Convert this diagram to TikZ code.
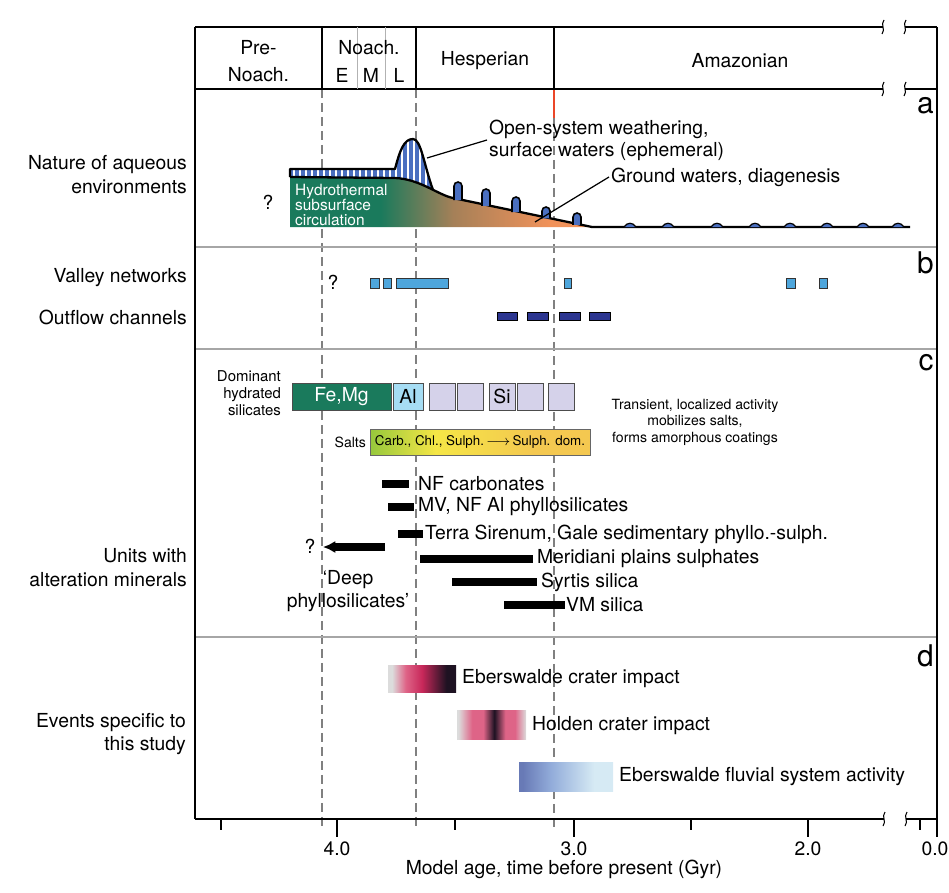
\documentclass[tikz,border=0pt]{standalone}
\usepackage{fontspec}
\setmainfont{TeX Gyre Heros}
\usetikzlibrary{arrows.meta}

\definecolor{hydrogreen}{RGB}{26,122,92}
\definecolor{hydrobrown}{RGB}{165,128,88}
\definecolor{hydroorange}{RGB}{241,146,90}
\definecolor{bandblue}{RGB}{74,111,192}
\definecolor{vnblue}{RGB}{78,166,220}
\definecolor{ocblue}{RGB}{43,53,144}
\definecolor{alblue}{RGB}{166,221,244}
\definecolor{silav}{RGB}{213,210,234}
\definecolor{saltgreen}{RGB}{150,200,60}
\definecolor{saltyellow}{RGB}{245,230,70}
\definecolor{saltgold}{RGB}{244,200,80}
\definecolor{impgrey}{RGB}{220,220,220}
\definecolor{imppink}{RGB}{222,100,135}
\definecolor{impcrimson}{RGB}{200,40,90}
\definecolor{impdark}{RGB}{30,18,34}
\definecolor{fluvslate}{RGB}{104,122,182}
\definecolor{fluvmid}{RGB}{146,172,218}
\definecolor{fluvlight}{RGB}{214,234,244}
\definecolor{redline}{RGB}{235,70,40}

\pgfdeclarehorizontalshading{hydroshade}{100bp}{color(0bp)=(hydrogreen); color(40bp)=(hydrogreen); color(52bp)=(hydrobrown); color(68bp)=(hydroorange); color(100bp)=(hydroorange)}
\pgfdeclarehorizontalshading{saltshade}{100bp}{color(0bp)=(saltgreen); color(25bp)=(saltgreen); color(40bp)=(saltyellow); color(62bp)=(saltgold); color(100bp)=(saltgold)}
\pgfdeclarehorizontalshading{ebershade}{100bp}{color(0bp)=(impgrey); color(28bp)=(impgrey); color(38bp)=(imppink); color(50bp)=(impcrimson); color(68bp)=(impdark); color(100bp)=(impdark)}
\pgfdeclarehorizontalshading{holdenshade}{100bp}{color(0bp)=(impgrey); color(26bp)=(impgrey); color(36bp)=(imppink); color(44bp)=(imppink); color(52bp)=(impdark); color(60bp)=(imppink); color(67bp)=(imppink); color(75bp)=(impgrey); color(100bp)=(impgrey)}
\pgfdeclarehorizontalshading{fluvshade}{100bp}{color(0bp)=(fluvslate); color(27bp)=(fluvslate); color(42bp)=(fluvmid); color(65bp)=(fluvlight); color(100bp)=(fluvlight)}

\begin{document}
\begin{tikzpicture}[x=0.02cm, y=-0.02cm,
    lbl/.style={font=\fontsize{11}{13.6}\selectfont, inner sep=1pt},
    smalltext/.style={font=\fontsize{8}{9.5}\selectfont, inner sep=1pt},
    panelletter/.style={font=\fontsize{17}{17}\selectfont, inner sep=0pt},
    agedash/.style={gray, line width=0.6pt, dash pattern=on 0.18cm off 0.1cm},
    sepline/.style={gray!70, line width=0.6pt},
    frameline/.style={line width=1pt},
    headline/.style={line width=1.3pt},
    vnbox/.style={draw=black!80, fill=vnblue, line width=0.5pt},
    ocbox/.style={draw=black, fill=ocblue, line width=0.5pt},
    silbox/.style={draw=black!70, line width=0.5pt, inner sep=0pt, minimum height=0.54cm,
        font=\fontsize{11}{13}\selectfont},
    unitbar/.style={line width=4pt},
    leader/.style={line width=0.7pt}]
    \useasboundingbox (0,0) rectangle (949,892);

    % Draw the age lines
    \foreach \x in {322,416} \draw[agedash] (\x,89) -- (\x,827);
    \draw[agedash] (554,118) -- (554,827);
    \draw[redline, line width=0.8pt] (554,89) -- (554,118);

    % Draw the panel separators
    \foreach \y in {247,349,637} \draw[sepline] (195,\y) -- (937,\y);

    % Draw the frame and the period header
    \draw[frameline] (195,27) -- (195,819);
    \draw[frameline] (937,27) -- (937,837);
    \draw[headline] (195,27) -- (883,27);
    \draw[headline] (905,27) -- (937,27);
    \draw[headline] (195,89) -- (883,89);
    \draw[headline] (905,89) -- (937,89);
    \foreach \x in {322,416,554} \draw[frameline] (\x,27) -- (\x,89);
    \foreach \x in {357,385} \draw[gray!60, line width=0.5pt] (\x,27) -- (\x,89);
    \foreach \x/\y in {883/27,905/27,883/89,905/89,884/819,906/819}
        \draw[line width=0.6pt] (\x+1,\y-7) .. controls (\x-3,\y-2) and (\x+3,\y+2) .. (\x-1,\y+7);

    \node[lbl, align=center, font=\fontsize{11}{15.3}\selectfont] (prenoach) at (258.5,61) {Pre-\\Noach.};
    \node[lbl] (noach) at (369,48) {Noach.};
    \node[lbl] (early) at (342,75) {E};
    \node[lbl] (middle) at (371,75) {M};
    \node[lbl] (late) at (399,75) {L};
    \node[lbl] (hesperian) at (485,61) {Hesperian};
    \node[lbl] (amazonian) at (740,61) {Amazonian};

    % Panel letters
    \node[panelletter, anchor=base east] (pa) at (934,113) {a};
    \node[panelletter, anchor=base east] (pb) at (934,273) {b};
    \node[panelletter, anchor=base east] (pc) at (934,370) {c};
    \node[panelletter, anchor=base east] (pd) at (934,666) {d};

    % Panel a: aqueous environments
    \node[lbl, anchor=east, align=right] (aqueous) at (189,175) {Nature of aqueous\\environments};
    \node[lbl] (qa) at (268,202) {?};
    \begin{scope}
        \clip (290,169) -- (395,169) .. controls (400,150) and (404,139) .. (413,139)
            .. controls (421,139) and (424,165) .. (433,190) -- (433,200) -- (290,200) -- cycle;
        \fill[bandblue] (285,135) rectangle (440,205);
        \foreach \x in {294,300,...,432} \draw[white, line width=0.7pt] (\x,130) -- (\x,205);
    \end{scope}
    \shade[shading=hydroshade] (290,177) -- (395,178) .. controls (420,179) and (438,195) .. (453,198)
        -- (592,227) -- (290,227) -- cycle;
    \draw[line width=1.3pt, line join=round] (290,177) -- (290,169) -- (395,169)
        .. controls (400,150) and (404,139) .. (413,139) .. controls (421,139) and (424,165) .. (433,190);
    \draw[line width=1.3pt] (290,177) -- (395,178) .. controls (420,179) and (438,195) .. (453,198)
        -- (592,227) -- (910,227);
    \foreach \x/\t in {458/182,486/189,516/197,546/207,577/213} {
        \pgfmathsetmacro\b{199+0.209*(\x-453)}
        \draw[fill=bandblue, line width=0.9pt] (\x-4,\b) -- (\x-4,\t+4)
            arc[start angle=180, end angle=360, radius=4] -- (\x+4,\b);
    }
    \foreach \x in {630,668,717,755,790,827,863,898}
        \draw[fill=bandblue, line width=0.7pt] (\x-6,227) .. controls (\x-3,222) and (\x+3,222) .. (\x+6,227);
    \node[smalltext, anchor=west, align=left, text=white, font=\fontsize{8.8}{8.6}\selectfont] (hydro)
        at (293,205) {Hydrothermal\\subsurface\\circulation};
    \node[lbl, anchor=west, align=left, font=\fontsize{11}{12.5}\selectfont] (opensys)
        at (487,140) {Open-system weathering,\\surface waters (ephemeral)};
    \node[lbl, anchor=west] (ground) at (609,177) {Ground waters, diagenesis};
    \coordinate (peakside) at (427,158);
    \coordinate (slopepoint) at (535,222);
    \draw[leader] (peakside) -- (opensys.west);
    \draw[leader] (slopepoint) -- (ground.west);

    % Panel b: channels
    \node[lbl, anchor=east] (valley) at (189,278) {Valley networks};
    \node[lbl, anchor=east] (outflow) at (189,317) {Outflow channels};
    \node[lbl] (qb) at (333,282) {?};
    \foreach \a/\c in {370/379,383/391,396/448,564/571,786/795,819/827}
        \draw[vnbox] (\a,278) rectangle (\c,288);
    \foreach \a/\c in {497/517,527/548,559/580,589/610}
        \draw[ocbox] (\a,312) rectangle (\c,320);

    % Panel c: alteration minerals
    \node[smalltext, anchor=east, align=right, font=\fontsize{8.5}{9.8}\selectfont] (dominant)
        at (283,393) {Dominant\\hydrated\\silicates};
    \node[silbox, fill=hydrogreen, text=white, minimum width=1.98cm] (femg) at (341.5,396.5) {Fe,Mg};
    \node[silbox, fill=alblue, minimum width=0.6cm] (al) at (408,396.5) {Al};
    \node[silbox, fill=silav, minimum width=0.52cm] (sil1) at (442,396.5) {};
    \node[silbox, fill=silav, minimum width=0.52cm] (sil2) at (470.5,396.5) {};
    \node[silbox, fill=silav, minimum width=0.52cm] (si) at (502,396.5) {Si};
    \node[silbox, fill=silav, minimum width=0.52cm] (sil4) at (530.5,396.5) {};
    \node[silbox, fill=silav, minimum width=0.52cm] (sil5) at (561.5,396.5) {};

    \shadedraw[shading=saltshade, draw=black!60, line width=0.5pt] (370,429) rectangle (590,455);
    \node[smalltext, anchor=east] (salts) at (368,442) {Salts};
    \node[smalltext, font=\fontsize{7.6}{9}\selectfont] (saltsbar) at (480,442)
        {Carb., Chl., Sulph.\,$\longrightarrow$\,Sulph. dom.};
    \node[smalltext, align=center, font=\fontsize{8}{9.4}\selectfont] (transient) at (695,422)
        {Transient, localized activity\\mobilizes salts,\\forms amorphous coatings};

    \node[lbl, anchor=east, align=right] (units) at (189,568) {Units with\\alteration minerals};
    \draw[unitbar] (382,484) -- (409,484);
    \node[lbl, anchor=west] (nfcarb) at (416,484) {NF carbonates};
    \draw[unitbar] (388,507) -- (414,507);
    \node[lbl, anchor=west] (mvnf) at (416,507) {MV, NF Al phyllosilicates};
    \draw[unitbar] (398,534) -- (423,534);
    \node[lbl, anchor=west] (terra) at (423,534) {Terra Sirenum, Gale sedimentary phyllo.-sulph.};
    \draw[unitbar] (420,559) -- (533,559);
    \node[lbl, anchor=west] (meridiani) at (535,559) {Meridiani plains sulphates};
    \draw[unitbar] (452,582) -- (537,582);
    \node[lbl, anchor=west] (syrtis) at (539,582) {Syrtis silica};
    \draw[unitbar] (504,605) -- (565,605);
    \node[lbl, anchor=west] (vmsilica) at (564,605) {VM silica};
    \node[lbl] (qc) at (310,546) {?};
    \coordinate (deepstart) at (385,547);
    \coordinate (deepend) at (323,547);
    \draw[unitbar, -{Latex[length=7pt, width=7pt]}] (deepstart) -- (deepend);
    \node[lbl, align=center] (deep) at (348,591) {‘Deep\\phyllosilicates’};

    % Panel d: events
    \node[lbl, anchor=east, align=right] (events) at (188,734) {Events specific to\\this study};
    \shade[shading=ebershade] (388,665) rectangle (456,692);
    \node[lbl, anchor=west] (eberimpact) at (460,679) {Eberswalde crater impact};
    \shade[shading=holdenshade] (457,710) rectangle (526,739);
    \node[lbl, anchor=west] (holden) at (530,726) {Holden crater impact};
    \shade[shading=fluvshade] (519,762) rectangle (613,791);
    \node[lbl, anchor=west] (fluvial) at (617,777) {Eberswalde fluvial system activity};

    % Draw the time axis
    \draw[headline] (195,819) -- (884,819);
    \draw[headline] (906,819) -- (937,819);
    \foreach \x in {337,574,808,937} \draw[frameline] (\x,819) -- (\x,837);
    \foreach \x in {221,455,691,920} \draw[frameline] (\x,819) -- (\x,830);
    \node[lbl] (age4) at (337,849) {4.0};
    \node[lbl] (age3) at (574,849) {3.0};
    \node[lbl] (age2) at (808,849) {2.0};
    \node[lbl] (age0) at (935,849) {0.0};
    \node[lbl] (axistitle) at (564,869) {Model age, time before present (Gyr)};
\end{tikzpicture}
\end{document}
